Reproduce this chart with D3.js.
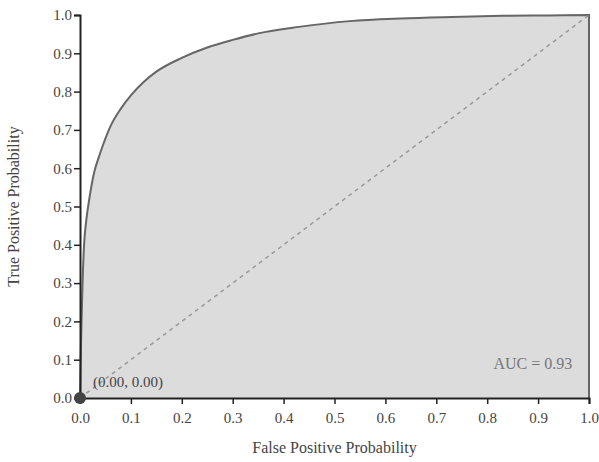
<!DOCTYPE html>
<html>
<head>
<meta charset="utf-8">
<script src="https://cdn.jsdelivr.net/npm/d3@7"></script>
<style>
  body { margin: 0; background: #fff; }
  text { font-family: "Liberation Serif", "Times New Roman", serif; }
</style>
</head>
<body>
<svg id="roc" width="599" height="462"></svg>
<script>
// ROC curve points
var fprValues = [0, 0.001, 0.003, 0.005, 0.008, 0.012, 0.016, 0.022, 0.028, 0.036, 0.045, 0.06, 0.08, 0.1, 0.125, 0.15, 0.2, 0.25, 0.3, 0.35, 0.43, 0.53, 0.63, 0.73, 0.83, 0.92, 1.0]
var tprValues = [0, 0.08, 0.2, 0.3, 0.4, 0.46, 0.5, 0.55, 0.59, 0.625, 0.66, 0.71, 0.755, 0.79, 0.825, 0.852, 0.888, 0.915, 0.935, 0.952, 0.969, 0.984, 0.991, 0.995, 0.998, 0.999, 1.0]
var tickValues = [0, 0.1, 0.2, 0.3, 0.4, 0.5, 0.6, 0.7, 0.8, 0.9, 1.0]
var aucLabel = "AUC = 0.93"
var pointLabel = "(0.00, 0.00)"
var xTitle = "False Positive Probability"
var yTitle = "True Positive Probability"

var svg = d3.select("#roc")
var margin = {left: 80, right: 10, top: 15, bottom: 64}
var width = 599 - margin.left - margin.right
var height = 462 - margin.top - margin.bottom

var xScale = d3.scaleLinear().domain([0, 1]).range([0, width])
var yScale = d3.scaleLinear().domain([0, 1]).range([height, 0])

var g = svg.append("g").attr("transform", "translate(" + margin.left + "," + margin.top + ")")

var rocData = fprValues.map((d, i) => [d, tprValues[i]])
rocData.push([1, 0])

// area under the curve, closed down to (1,0)
g.append("path")
  .datum(rocData)
  .attr("d", d3.line().x(d => xScale(d[0])).y(d => yScale(d[1])).curve(d3.curveMonotoneX))
  .attr("fill", "#dcdcdc")
  .attr("stroke", "#666")
  .attr("stroke-width", 2)

// chance diagonal
g.append("line")
  .attr("x1", xScale(0)).attr("y1", yScale(0))
  .attr("x2", xScale(1)).attr("y2", yScale(1))
  .attr("stroke", "#999")
  .attr("stroke-width", 1.5)
  .attr("stroke-dasharray", "4,4")

var xAxis = g.append("g")
  .attr("transform", "translate(0," + height + ")")
  .call(d3.axisBottom(xScale).tickValues(tickValues).tickFormat(d3.format(".1f")).tickSize(6))
var yAxis = g.append("g")
  .call(d3.axisLeft(yScale).tickValues(tickValues).tickFormat(d3.format(".1f")).tickSize(6))

;[xAxis, yAxis].forEach(ax => {
  ax.select(".domain").attr("stroke", "#222").attr("stroke-width", 2)
  ax.selectAll(".tick line").attr("stroke", "#222").attr("stroke-width", 1.5)
  ax.selectAll("text")
    .style("font-family", "Liberation Serif, serif")
    .attr("font-size", 15)
    .attr("fill", "#444")
})
xAxis.selectAll("text").attr("dy", "1.05em")
yAxis.selectAll("text").attr("x", -8)

g.append("text")
  .attr("x", width / 2)
  .attr("y", height + 55)
  .attr("text-anchor", "middle")
  .attr("font-size", 16)
  .attr("fill", "#444")
  .text(xTitle)

g.append("text")
  .attr("transform", "translate(" + (-61) + "," + (height / 2) + ") rotate(-90)")
  .attr("text-anchor", "middle")
  .attr("font-size", 16)
  .attr("fill", "#444")
  .text(yTitle)

g.append("text")
  .attr("x", xScale(0.967))
  .attr("y", yScale(0.075))
  .attr("text-anchor", "end")
  .attr("font-size", 16)
  .attr("fill", "#777")
  .text(aucLabel)

// operating point
g.append("circle")
  .attr("cx", xScale(0))
  .attr("cy", yScale(0))
  .attr("r", 6)
  .attr("fill", "#444")

g.append("text")
  .attr("x", xScale(0) + 13)
  .attr("y", yScale(0) - 11)
  .attr("font-size", 15)
  .attr("fill", "#444")
  .text(pointLabel)
</script>
</body>
</html>
